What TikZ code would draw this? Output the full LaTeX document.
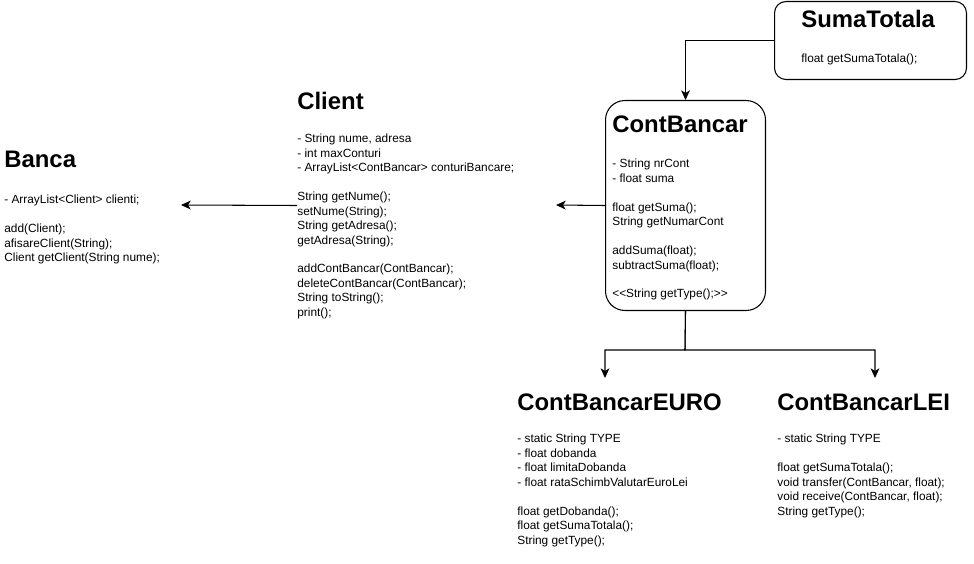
\documentclass[tikz,border=0pt]{standalone}
\usepackage{fontspec}
\setmainfont{Liberation Sans}
\usetikzlibrary{arrows.meta, positioning}
\colorlet{colLinie}{black}
\colorlet{colText}{black}
\tikzset{
  cutieClasa/.style={
    draw=colLinie, line width=0.6pt, rounded corners=6.5pt,
    inner sep=0pt, anchor=north west
  },
  titluClasa/.style={anchor=base west, inner sep=0pt, text=colText,
    font=\fontsize{13.6pt}{16pt}\selectfont\bfseries},
  corpClasa/.style={anchor=north west, inner sep=0pt, align=left, text=colText,
    font=\fontsize{6.75pt}{8.22pt}\selectfont},
  sageata/.style={-{Stealth[length=5.5pt, width=5pt, inset=1.5pt]}, line width=0.6pt, colLinie},
}

\begin{document}
\begin{tikzpicture}[x=0.02cm, y=-0.02cm]
    \useasboundingbox (0,0) rectangle (974,564);

    \node[cutieClasa, minimum width=3.84cm, minimum height=1.56cm] (cutieSuma) at (774,1) {};
    \node[titluClasa] (titluSuma) at (801,28) {SumaTotala};
    \node[corpClasa] (corpSuma) at (801,53.5) {float getSumaTotala();};

    \node[cutieClasa, rounded corners=11pt, minimum width=3.2cm, minimum height=4.2cm] (cutieCont) at (605,100) {};
    \node[titluClasa] (titluCont) at (612,133) {ContBancar};
    \node[corpClasa] (corpCont) at (612,159) {- String nrCont\\- float suma\\~\\float getSuma();\\String getNumarCont\\~\\addSuma(float);\\subtractSuma(float);\\~\\<{}<String getType();>{}>};

    \node[titluClasa] (titluClient) at (297,110) {Client};
    \node[corpClasa] (corpClient) at (297,134) {- String nume, adresa\\- int maxConturi\\- ArrayList<ContBancar> conturiBancare;\\~\\String getNume();\\setNume(String);\\String getAdresa();\\getAdresa(String);\\~\\addContBancar(ContBancar);\\deleteContBancar(ContBancar);\\String toString();\\print();};

    \node[titluClasa] (titluBanca) at (4,168) {Banca};
    \node[corpClasa] (corpBanca) at (4,195) {- ArrayList<Client> clienti;\\~\\add(Client);\\afisareClient(String);\\Client getClient(String nume);};

    \node[titluClasa] (titluEuro) at (517,410) {ContBancarEURO};
    \node[corpClasa] (corpEuro) at (517,434) {- static String TYPE\\- float dobanda\\- float limitaDobanda\\- float rataSchimbValutarEuroLei\\~\\float getDobanda();\\float getSumaTotala();\\String getType();};

    \node[titluClasa] (titluLei) at (777,410) {ContBancarLEI};
    \node[corpClasa] (corpLei) at (777,434) {- static String TYPE\\~\\float getSumaTotala();\\void transfer(ContBancar, float);\\void receive(ContBancar, float);\\String getType();};

    \coordinate (capatClient) at (556,205);
    \coordinate (capatBanca) at (181,205);
    \coordinate (ramificare) at (685,350);
    \coordinate (capatEuro) at (605,378);
    \coordinate (capatLei) at (875,378);

    \draw[sageata] (cutieSuma.west) -| (cutieCont.north);
    \draw[sageata] (cutieCont.west) -- (capatClient);
    \draw[sageata] (corpClient.west |- cutieCont.west) -- (capatBanca);
    \draw[sageata] (cutieCont.south) -- (ramificare) -| (capatEuro);
    \draw[sageata] (cutieCont.south) -- (ramificare) -| (capatLei);
  \end{tikzpicture}
\end{document}
